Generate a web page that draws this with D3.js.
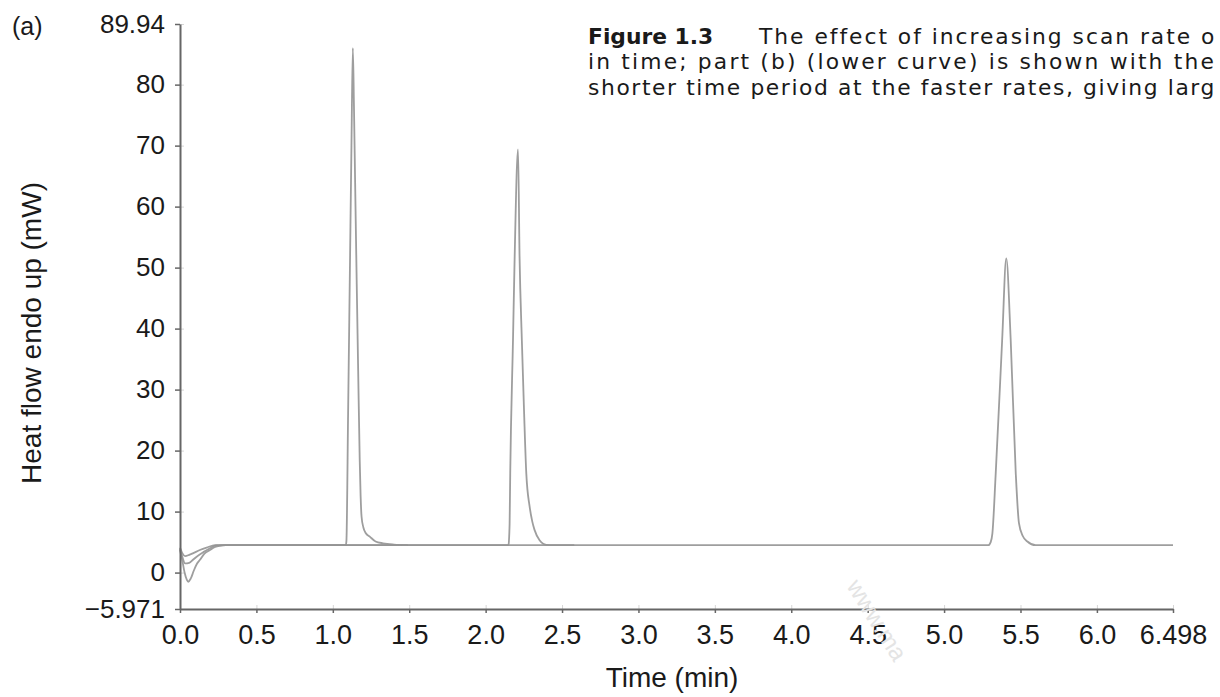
<!DOCTYPE html>
<html>
<head>
<meta charset="utf-8">
<script src="https://cdn.jsdelivr.net/npm/d3@7"></script>
<style>
  body { margin: 0; background: #fff; }
  svg { display: block; }
</style>
</head>
<body>
<div id="chart"></div>
<script>
// three DSC runs, [time (min), heat flow (mW)]
var fastRun = [[0,3.7],[0.015,2.0],[0.03,0.0],[0.045,-1.2],[0.054,-1.5],[0.07,-1.0],[0.09,0.3],[0.11,1.4],
  [0.131,2.1],[0.16,3.1],[0.196,3.7],[0.23,4.2],[0.261,4.4],[0.3,4.5],[0.6,4.5],[0.9,4.5],[1.085,4.5],
  [1.089,5.2],[1.10,26],[1.112,50],[1.122,70],[1.131,86],[1.138,77],[1.146,64],[1.156,48],[1.166,33],
  [1.176,18.5],[1.182,12.5],[1.188,9.2],[1.20,7.4],[1.215,6.5],[1.242,5.9],[1.28,5.1],[1.329,4.8],
  [1.40,4.6],[1.49,4.5]];

var midRun = [[0,3.9],[0.015,2.6],[0.033,1.5],[0.06,1.6],[0.085,2.1],[0.109,2.6],[0.15,3.3],[0.196,4.0],
  [0.24,4.45],[0.3,4.5],[0.8,4.5],[1.5,4.5],[2.0,4.5],[2.145,4.5],[2.150,4.6],[2.155,6.5],[2.157,8.1],
  [2.161,16.3],[2.179,38.1],[2.190,51.8],[2.212,69.4],[2.222,51.8],[2.237,38.1],[2.252,26],[2.266,16.3],
  [2.288,10.8],[2.305,8.4],[2.320,7.0],[2.353,5.3],[2.397,4.55],[2.45,4.5],[2.58,4.5]];

var slowRun = [[0,4.1],[0.015,3.2],[0.033,2.7],[0.06,2.9],[0.087,3.2],[0.13,3.7],[0.174,4.1],[0.23,4.5],
  [0.3,4.5],[1.0,4.5],[2.0,4.5],[3.0,4.5],[4.0,4.5],[5.0,4.5],[5.29,4.5],[5.305,5.0],[5.316,6.4],
  [5.338,16.3],[5.380,38.1],[5.407,51.5],[5.436,38.1],[5.469,16.3],[5.490,8.1],[5.515,6.0],[5.545,5.1],
  [5.599,4.5],[6.0,4.5],[6.498,4.5]];

var xTicks = [0, 0.5, 1.0, 1.5, 2.0, 2.5, 3.0, 3.5, 4.0, 4.5, 5.0, 5.5, 6.0, 6.498];
var xTickLabels = ["0.0","0.5","1.0","1.5","2.0","2.5","3.0","3.5","4.0","4.5","5.0","5.5","6.0","6.498"];
var yTicks = [-5.971, 0, 10, 20, 30, 40, 50, 60, 70, 80, 89.94];
var yTickLabels = ["\u22125.971","0","10","20","30","40","50","60","70","80","89.94"];

var captionHead = "Figure 1.3";
var captionLines = [
  "The effect of increasing scan rate o",
  "in time; part (b) (lower curve) is shown with the",
  "shorter time period at the faster rates, giving larg"
];

var W = 1220, H = 697;
var svg = d3.select("#chart").append("svg")
    .attr("width", W)
    .attr("height", H);

var x = d3.scaleLinear().domain([0, 6.498]).range([180, 1173]);
var y = d3.scaleLinear().domain([-5.971, 89.94]).range([609, 24]);

var axisFont = "'Liberation Sans', Arial, Helvetica, sans-serif";

// faint inner ticks
svg.append("g")
    .attr("transform", "translate(180,0)")
    .call(d3.axisRight(y).tickValues(yTicks).tickSize(4).tickSizeOuter(0).tickFormat(""))
    .call(function(g){ g.select(".domain").remove(); })
    .selectAll(".tick line").attr("stroke", "#d6d6d6");
svg.append("g")
    .attr("transform", "translate(0,609)")
    .call(d3.axisTop(x).tickValues(xTicks).tickSize(4).tickSizeOuter(0).tickFormat(""))
    .call(function(g){ g.select(".domain").remove(); })
    .selectAll(".tick line").attr("stroke", "#d6d6d6");

// curves
var line = d3.line()
    .x(function(d){ return x(d[0]); })
    .y(function(d){ return y(d[1]); })
    .curve(d3.curveMonotoneX);

svg.selectAll("path.run")
  .data([slowRun, midRun, fastRun])
  .enter()
  .append("path")
    .attr("class", "run")
    .attr("d", line)
    .attr("fill", "none")
    .attr("stroke", "#939393")
    .attr("stroke-opacity", 0.9)
    .attr("stroke-width", 1.8)
    .attr("stroke-linejoin", "round");

// Y axis
var yAxis = svg.append("g")
    .attr("transform", "translate(180,0)")
    .call(d3.axisLeft(y).tickValues(yTicks).tickSize(5).tickSizeOuter(0).tickPadding(10)
      .tickFormat(function(d, i){ return yTickLabels[i]; }));
yAxis.attr("font-family", axisFont).attr("font-size", 26);
yAxis.select(".domain").attr("stroke", "#666").attr("stroke-width", 2);
yAxis.selectAll(".tick line").attr("stroke", "#666").attr("stroke-width", 1.5);
yAxis.selectAll(".tick text").attr("fill", "#1a1a1a");

// X axis
var xAxis = svg.append("g")
    .attr("transform", "translate(0,609)")
    .call(d3.axisBottom(x).tickValues(xTicks).tickSize(4).tickSizeOuter(0).tickPadding(12)
      .tickFormat(function(d, i){ return xTickLabels[i]; }));
xAxis.attr("font-family", axisFont).attr("font-size", 27);
xAxis.select(".domain").attr("stroke", "#666").attr("stroke-width", 2);
xAxis.selectAll(".tick line").attr("stroke", "#666").attr("stroke-width", 1.5);
xAxis.selectAll(".tick text").attr("fill", "#1a1a1a");

// axis titles
svg.append("text")
    .attr("x", 672)
    .attr("y", 687)
    .attr("text-anchor", "middle")
    .attr("font-family", axisFont)
    .attr("font-size", 28)
    .attr("fill", "#1a1a1a")
    .text("Time (min)");

svg.append("text")
    .attr("transform", "translate(41,333) rotate(-90)")
    .attr("text-anchor", "middle")
    .attr("font-family", axisFont)
    .attr("font-size", 28)
    .attr("fill", "#1a1a1a")
    .text("Heat flow endo up (mW)");

svg.append("text")
    .attr("x", 12)
    .attr("y", 35)
    .attr("font-family", axisFont)
    .attr("font-size", 25)
    .attr("fill", "#1a1a1a")
    .text("(a)");

// caption: one text block, lines spaced out to reach the page edge like the scan
var capLeft = 588, capRight = 1216, capStep = 25.5;
var cap = svg.append("text")
    .attr("x", capLeft)
    .attr("y", 43.5)
    .attr("font-family", "'DejaVu Sans', 'Noto Sans', sans-serif")
    .attr("font-size", 21.8)
    .attr("fill", "#1a1a1a");
cap.append("tspan").attr("font-weight", "bold").text(captionHead);
var starts = [759, capLeft, capLeft];
captionLines.forEach(function(s, i){
  var ts = cap.append("tspan").attr("x", starts[i]).text(s);
  if (i > 0) ts.attr("dy", capStep);
  var natural = ts.node().getComputedTextLength();
  var ls = (capRight - starts[i] - natural) / s.length;
  ts.attr("letter-spacing", Math.max(0, ls));
});

// watermark
svg.append("text")
    .attr("transform", "translate(846,586) rotate(58)")
    .attr("font-family", axisFont)
    .attr("font-size", 24)
    .attr("fill", "#e4e4e4")
    .text("www.ma");
</script>
</body>
</html>
